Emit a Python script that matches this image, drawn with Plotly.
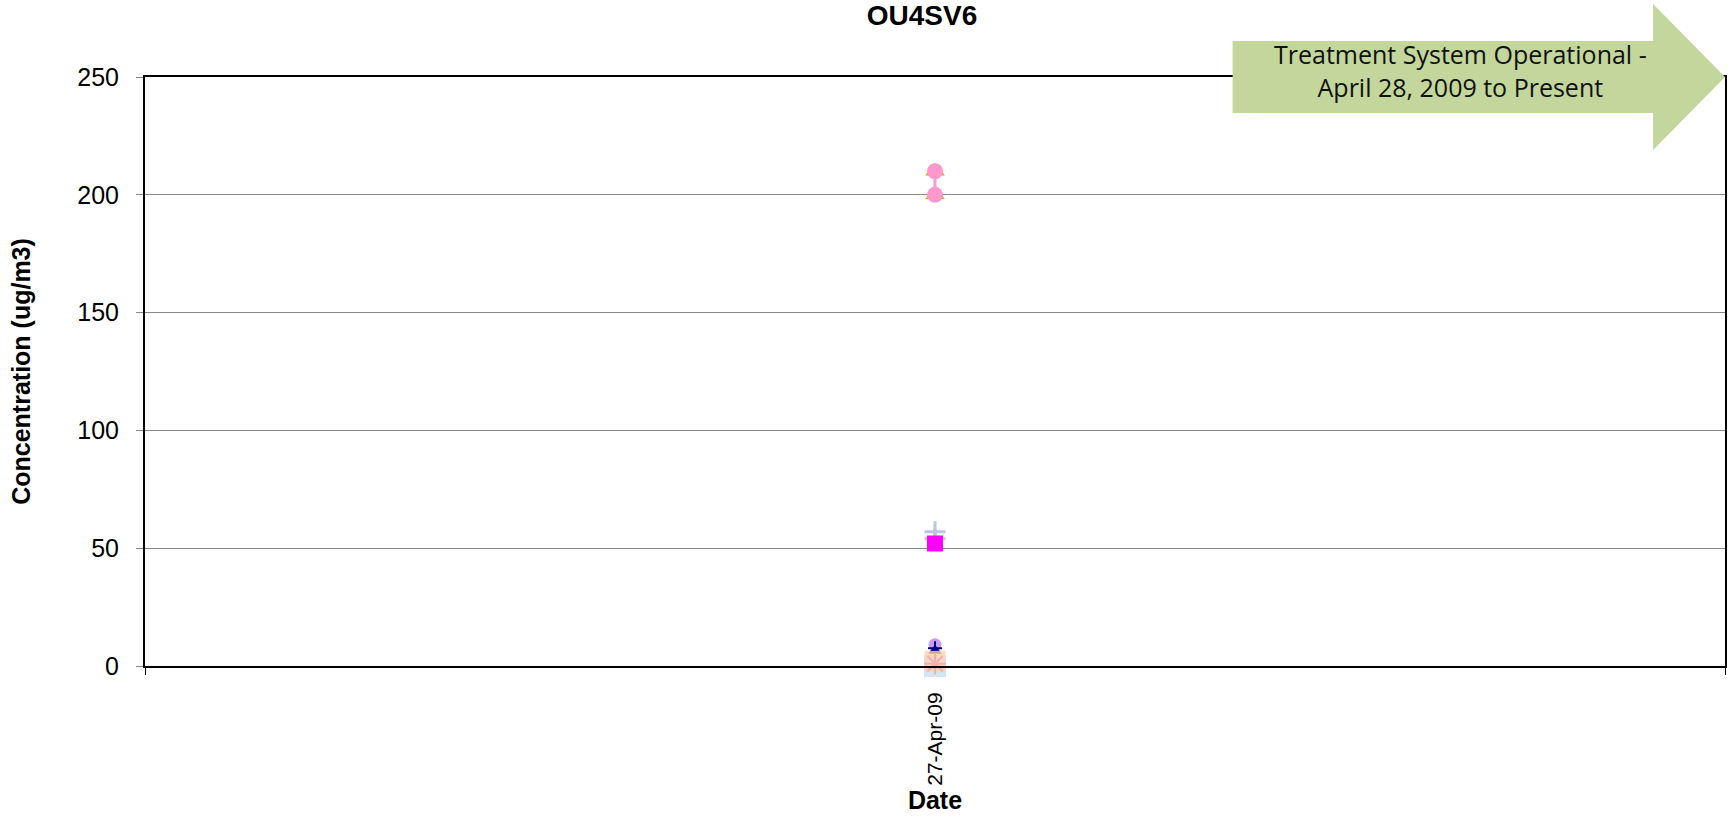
import plotly.graph_objects as go

# ---- data ----
dates = ["27-Apr-09"]
orange_tri = [210, 200]
pink_circle = [210, 200]
magenta_square = [52]
steel_plus = [57, 54]
lavender_circle = [9]
navy_triangle = [6.5]
navy_cross = [7.5]
peach_square = [2]
lightblue_square = [0]
pink_asterisk = [1]
y_ticks = [0, 50, 100, 150, 200, 250]

W, H = 1729, 817
L, R, T, B = 145, 2, 77, 151

fig = go.Figure()

def add(vals, symbol, color, size, line=False, lw=0, opacity=1.0, linecolor=None):
    fig.add_trace(go.Scatter(
        x=[dates[0]] * len(vals), y=vals,
        mode="lines+markers" if line else "markers",
        line=dict(color=color, width=3),
        marker=dict(symbol=symbol, color=color, size=size, opacity=opacity,
                    line=dict(width=lw, color=linecolor or color)),
        showlegend=False, cliponaxis=False,
    ))

add(orange_tri, "triangle-up", "#FF9900", 17)
add(pink_circle, "circle", "#FF99CC", 16, line=True)
add(steel_plus, "cross-thin-open", "#B8C6E0", 15, line=True, lw=3)
add(magenta_square, "square", "#FF00FF", 16)
add(lavender_circle, "circle", "#C59CF5", 13)
add(navy_triangle, "triangle-up", "#000080", 12)
add(navy_cross, "cross-thin-open", "#000080", 10, lw=2)
add(lightblue_square, "square", "#CCE4F0", 22, opacity=0.9)
add(peach_square, "square", "#FFD2B4", 21, opacity=0.8)
add(pink_asterisk, "asterisk-open", "#F4B0B0", 18, lw=2)

# arrow shape (paper coordinates)
def px_x(p):
    return (p - L) / (W - L - R)

def px_y(p):
    return (H - B - p) / (H - B - T)

ax0, ax1, ax2 = px_x(1234), px_x(1655), px_x(1727)
by0, by1 = px_y(113), px_y(41)
hy0, hy1, ty = px_y(150), px_y(4), px_y(77)
path = (f"M {ax0},{by0} L {ax1},{by0} L {ax1},{hy0} L {ax2},{ty} "
        f"L {ax1},{hy1} L {ax1},{by1} L {ax0},{by1} Z")
fig.add_shape(type="path", path=path, xref="paper", yref="paper",
              fillcolor="#C3D69B", line=dict(width=0), layer="above")
fig.add_annotation(text="Treatment System Operational -<br>April 28, 2009 to Present",
                   xref="paper", yref="paper", x=px_x(1462), y=px_y(70),
                   xanchor="center", yanchor="middle", showarrow=False,
                   font=dict(family="Open Sans", size=25, color="#111111"))

fig.update_layout(
    width=W, height=H,
    margin=dict(l=L, r=R, t=T, b=B),
    paper_bgcolor="white", plot_bgcolor="white",
    font=dict(family="Liberation Sans, Arial", color="black"),
    title=dict(text="<b>OU4SV6</b>", x=922 / W, xref="container", xanchor="center",
               y=1 - 15 / H, yref="container", yanchor="middle",
               font=dict(size=28, color="black")),
)
fig.update_xaxes(
    type="category", range=[-0.5, 0.5],
    showline=True, linecolor="black", linewidth=2, mirror=True,
    ticks="outside", tickson="boundaries", ticklen=7, tickcolor="black",
    tickangle=-90, tickfont=dict(size=21), ticklabelstandoff=16,
    showgrid=False,
    title=dict(text="<b>Date</b>", font=dict(size=25), standoff=4),
)
fig.update_yaxes(
    range=[0, 250], tickvals=y_ticks,
    showline=True, linecolor="black", linewidth=2, mirror=True,
    ticks="outside", ticklen=7, tickcolor="#888888",
    tickfont=dict(size=25), ticklabelstandoff=12,
    showgrid=True, gridcolor="#888888", gridwidth=1,
    zeroline=False,
    title=dict(text="<b>Concentration (ug/m3)</b>", font=dict(size=25), standoff=40),
)

fig.write_html("out.html", config={"displayModeBar": False},
               post_script="document.body.style.margin='0';document.body.style.overflow='hidden';")
